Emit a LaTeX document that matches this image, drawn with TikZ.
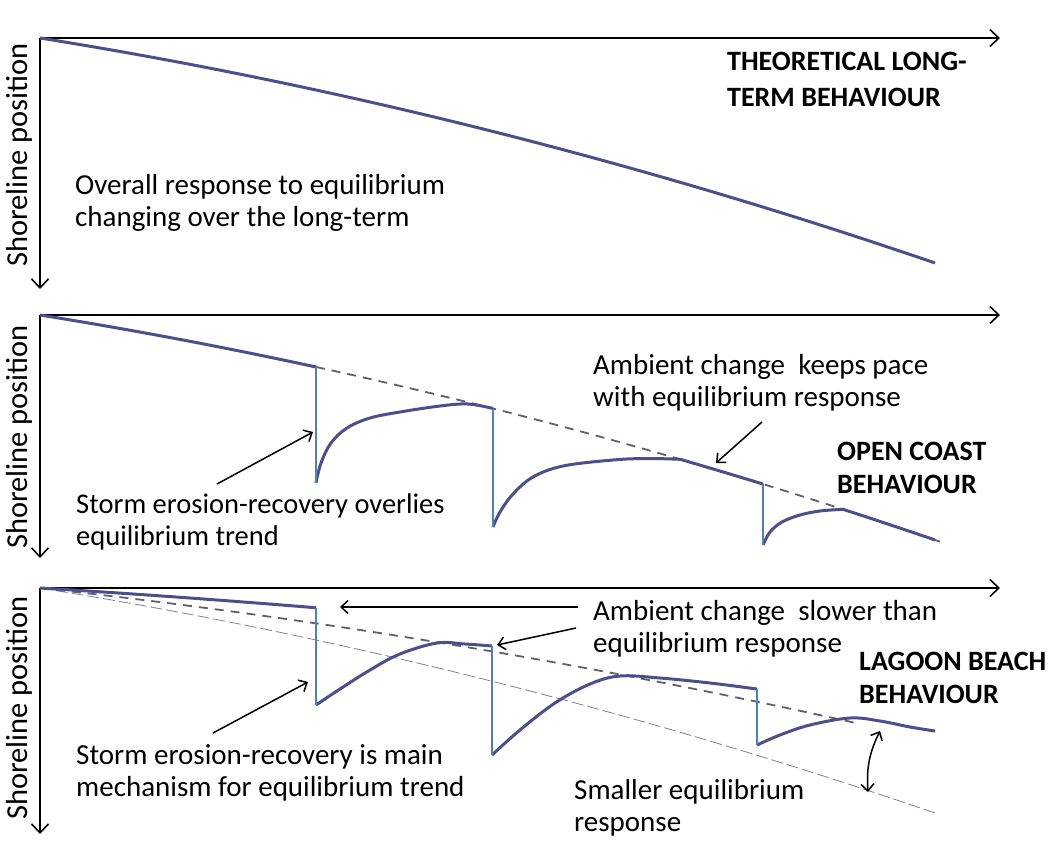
\documentclass[tikz,border=0pt]{standalone}
\usepackage{fontspec}
\setmainfont{Carlito}
\usetikzlibrary{arrows.meta,positioning}

\definecolor{trendblue}{HTML}{4B4F8C}
\definecolor{dropblue}{HTML}{4F7FC0}
\definecolor{dashgray}{HTML}{5E6070}

\tikzset{
  axis/.style={line width=1.6pt,-{Straight Barb[length=9pt,width=17pt]}},
  pointer/.style={line width=1.5pt,-{Straight Barb[length=7pt,width=13pt]}},
  trend/.style={trendblue,line width=3pt,line join=round},
  drop/.style={dropblue,line width=2.6pt},
  eqline/.style={dashgray,line width=1.8pt,dash pattern=on 9pt off 7pt},
  thinline/.style={dashgray!80,line width=0.8pt,dash pattern=on 12pt off 4pt},
  ylab/.style={rotate=90,inner sep=0pt,font=\fontsize{30.5}{33}\selectfont},
  remark/.style={align=left,inner sep=0pt,anchor=base west},
  heading/.style={align=left,inner sep=0pt,anchor=base west,font=\fontsize{28}{33}\selectfont\bfseries}
}

\begin{document}
\begin{tikzpicture}[x=1pt,y=-1pt,font=\fontsize{29}{32}\selectfont,
    declare function={eqy(\u)=0.1603*(\u-40)+(0.01009*(\u-40))^2;}]
  \useasboundingbox (0,0) rectangle (1052,841);

  % theoretical long-term
  \draw[axis] (40,38) -- (1000,38);
  \draw[axis] (40,38) -- (40,289);
  \draw[trend] plot[domain=40:935,samples=60] (\x,{38+eqy(\x)});
  \node[ylab] (ylabA) at (19,155) {Shoreline position};
  \node[remark] (overall) at (75,226) {Overall response to equilibrium\\changing over the long-term};
  \node[heading] (theory) at (727,106) {THEORETICAL LONG-\\[3pt]TERM BEHAVIOUR};

  % open coast
  \draw[axis] (40,315) -- (1000,315);
  \draw[axis] (40,315) -- (40,558);
  \draw[eqline] plot[domain=316:940,samples=50] (\x,{315+eqy(\x)});
  \draw[trend] plot[domain=40:316,samples=30] (\x,{315+eqy(\x)});
  \draw[trend] plot[smooth,tension=0.6] coordinates {(316,483) (321,463) (331,443) (347,428) (370,418) (400,412) (440,406) (468,404) (493,408.5)};
  \draw[trend] plot[smooth,tension=0.6] coordinates {(493,527) (500,512) (513,494) (533,477) (563,466) (613,460) (647,458.5) (680,459.3)}
    -- plot[domain=680:763,samples=20] (\x,{315+eqy(\x)});
  \draw[trend] plot[smooth,tension=0.6] coordinates {(763,545) (770,532) (782,522) (800,515) (820,511) (843,509.3)}
    -- plot[domain=843:935,samples=20] (\x,{315+eqy(\x)});
  \draw[drop] (316,367) -- (316,483);
  \draw[drop] (493,408.5) -- (493,527);
  \draw[drop] (763,484.1) -- (763,545);
  \node[ylab] (ylabB) at (19,437) {Shoreline position};
  \node[remark,font=\fontsize{28.5}{32}\selectfont] (stormA) at (76,545) {Storm erosion-recovery overlies\\equilibrium trend};
  \node[remark] (ambientA) at (593,406) {Ambient change~ keeps pace\\with equilibrium response};
  \node[heading] (opencoast) at (837,493) {OPEN COAST\\BEHAVIOUR};
  \coordinate (stormA tail) at (217,484);
  \coordinate (stormA tip) at (313,432);
  \coordinate (ambientA tail) at (762,422);
  \coordinate (ambientA tip) at (716,463);
  \draw[pointer] (stormA tail) -- (stormA tip);
  \draw[pointer] (ambientA tail) -- (ambientA tip);

  % lagoon beach
  \draw[axis] (40,588) -- (1000,588);
  \draw[axis] (40,588) -- (40,834);
  \draw[thinline] plot[domain=40:935,samples=60] (\x,{588+eqy(\x)});
  \draw[eqline] plot[domain=40:860,samples=60] (\x,{588+0.68*eqy(\x)});
  \draw[trend] plot[domain=40:316,samples=30] (\x,{588+0.38*eqy(\x)});
  \draw[trend] plot[smooth,tension=0.6] coordinates {(316,705) (340,689) (370,670) (400,654) (437,643) (465,644) (492,646)};
  \draw[trend] plot[smooth,tension=0.6] coordinates {(492,755) (520,730) (555,703) (590,684) (620,676) (660,678) (710,683) (757,689)};
  \draw[trend] plot[smooth,tension=0.6] coordinates {(757,745) (780,735) (810,725) (850,718) (880,721) (910,727) (935,731)};
  \draw[drop] (316,607.8) -- (316,705);
  \draw[drop] (492,646) -- (492,755);
  \draw[drop] (757,689) -- (757,745);
  \node[ylab] (ylabC) at (19,708) {Shoreline position};
  \node[remark] (ambientB) at (593,652) {Ambient change~ slower than\\equilibrium response};
  \node[heading] (lagoon) at (859,703) {LAGOON BEACH\\BEHAVIOUR};
  \node[remark] (stormB) at (76,796) {Storm erosion-recovery is main\\mechanism for equilibrium trend};
  \node[remark] (smaller) at (574,831) {Smaller equilibrium\\response};
  \coordinate (ambientB tail) at (578,607);
  \coordinate (ambientB tip) at (340,607);
  \coordinate (ambientC tail) at (576,628);
  \coordinate (ambientC tip) at (497,645);
  \coordinate (stormB tail) at (213,733);
  \coordinate (stormB tip) at (308,682);
  \coordinate (gap top) at (880,731);
  \coordinate (gap bottom) at (868,792);
  \draw[pointer] (ambientB tail) -- (ambientB tip);
  \draw[pointer] (ambientC tail) -- (ambientC tip);
  \draw[pointer] (stormB tail) -- (stormB tip);
  \draw[line width=1.5pt,{Straight Barb[length=7pt,width=13pt]}-{Straight Barb[length=7pt,width=13pt]}] (gap top) to[bend right=15] (gap bottom);
\end{tikzpicture}
\end{document}
